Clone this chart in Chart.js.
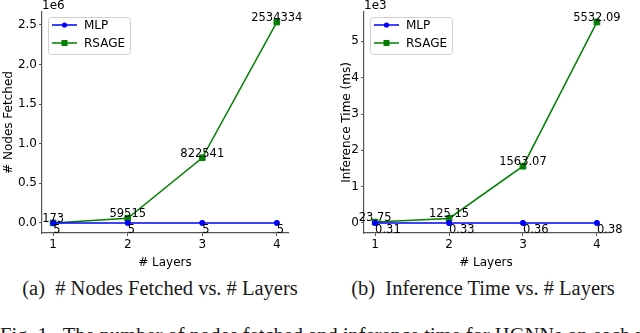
<!DOCTYPE html>
<html>
<head>
<meta charset="utf-8">
<script src="https://cdn.jsdelivr.net/npm/chart.js@4.4.1/dist/chart.umd.min.js"></script>
<style>
body{margin:0;width:640px;height:333px;overflow:hidden;background:#fff;position:relative;font-family:"DejaVu Sans",sans-serif;}
.box{position:absolute;top:0;width:320px;height:270px;}
.cap{position:absolute;top:277px;font-family:"Liberation Serif",serif;font-size:20.5px;color:#1a1a1a;white-space:nowrap;text-align:center;width:320px;}
.fig{position:absolute;top:324px;left:0;font-family:"Liberation Serif",serif;font-size:20.5px;color:#1a1a1a;white-space:nowrap;}
</style>
</head>
<body>
<div class="box" style="left:0"><canvas id="nodesChart"></canvas></div>
<div class="box" style="left:320px"><canvas id="timeChart"></canvas></div>
<div class="cap" style="left:0">(a)&nbsp; # Nodes Fetched vs. # Layers</div>
<div class="cap" style="left:323px">(b)&nbsp; Inference Time vs. # Layers</div>
<div class="fig">Fig. 1.&nbsp; The number of nodes fetched and inference time for HGNNs on each model</div>
<script>

/* data */
const layers=[1,2,3,4];
const nodesMLP=[5,5,5,5];
const nodesRSAGE=[173,59515,822541,2534334];
const timeMLP=[0.31,0.33,0.36,0.38];
const timeRSAGE=[23.75,125.15,1563.07,5532.09];
const nodesTicks=[0,500000,1000000,1500000,2000000,2500000];
const timeTicks=[0,1000,2000,3000,4000,5000];

const axisColor="#555";
const font12={family:"DejaVu Sans",size:12};


function toXY(vals){
return layers.map((l,i)=>({x:l,y:vals[i]}));
}


/* text next to every point */
const pointLabels={
id:"pointLabels",
afterDatasetsDraw(chart,args,opts){
const ctx=chart.ctx;
ctx.save();
ctx.font="11.5px 'DejaVu Sans'";
ctx.fillStyle="#000";
chart.data.datasets.forEach((ds,di)=>{
const meta=chart.getDatasetMeta(di);
meta.data.forEach((pt,i)=>{
let txt=opts.fmt(ds.data[i].y);
if(ds.label==="RSAGE"){
ctx.textAlign="center";
ctx.textBaseline="alphabetic";
ctx.fillText(txt,pt.x,pt.y-1);
}
else{
ctx.textAlign="left";
ctx.textBaseline="top";
ctx.fillText(txt,pt.x,pt.y+1);
}
});
});
ctx.restore();
}
};


/* matplotlib style offset text + legend inside axes */
const extras={
id:"extras",
afterDraw(chart,args,opts){
const ctx=chart.ctx;
const a=chart.chartArea;
ctx.save();
ctx.font="12px 'DejaVu Sans'";
ctx.fillStyle="#000";
ctx.textAlign="left";
ctx.textBaseline="alphabetic";
ctx.fillText(opts.offset,a.left,a.top-3);

let bx=a.left+6,by=a.top+5,bw=82,bh=37;
ctx.fillStyle="rgba(255,255,255,0.8)";
ctx.strokeStyle="#d0d0d0";
ctx.lineWidth=1;
ctx.beginPath();
ctx.roundRect(bx+0.5,by+0.5,bw,bh,3);
ctx.fill();
ctx.stroke();

chart.data.datasets.forEach((ds,di)=>{
let y=by+8+di*18;
ctx.strokeStyle=ds.borderColor;
ctx.lineWidth=1.5;
ctx.beginPath();
ctx.moveTo(bx+4,y);
ctx.lineTo(bx+29,y);
ctx.stroke();
ctx.fillStyle=ds.borderColor;
if(ds.pointStyle==="rect"){
ctx.fillRect(bx+13.5,y-3,6,6);
}
else{
ctx.beginPath();
ctx.arc(bx+16.5,y,2.6,0,Math.PI*2);
ctx.fill();
}
ctx.fillStyle="#000";
ctx.font="12px 'DejaVu Sans'";
ctx.textBaseline="middle";
ctx.fillText(ds.label,bx+36,y+1);
});
ctx.restore();
}
};


function makeChart(id,mlp,rsage,yTicks,yMin,yMax,yFmt,yTitle,padLeft,yWidth,offset,labelFmt){

const ctx=document.getElementById(id).getContext("2d");

return new Chart(ctx,{
type:"line",
data:{
datasets:[{
label:"MLP",
data:toXY(mlp),
borderColor:"#0000ff",
backgroundColor:"#0000ff",
borderWidth:1.5,
pointStyle:"circle",
pointRadius:2.6,
pointBorderWidth:1,
fill:false
},{
label:"RSAGE",
data:toXY(rsage),
borderColor:"#008000",
backgroundColor:"#008000",
borderWidth:1.5,
pointStyle:"rect",
pointRadius:4,
pointBorderWidth:1,
fill:false
}]
},
plugins:[pointLabels,extras],
options:{
responsive:true,
maintainAspectRatio:false,
animation:false,
layout:{padding:{top:12,right:32,left:padLeft,bottom:0}},
plugins:{
legend:{display:false},
tooltip:{enabled:false},
pointLabels:{fmt:labelFmt},
extras:{offset:offset}
},
scales:{
x:{
type:"linear",
min:0.85,
max:4.15,
afterBuildTicks:s=>{s.ticks=layers.map(v=>({value:v}));},
afterFit:s=>{s.height=37;},
grid:{drawOnChartArea:false,drawTicks:true,tickLength:3,color:axisColor},
border:{display:true,color:axisColor,width:1.2},
ticks:{color:"#000",font:font12,padding:2},
title:{display:true,text:"# Layers",color:"#000",font:font12,padding:{top:1,bottom:0}}
},
y:{
type:"linear",
min:yMin,
max:yMax,
afterBuildTicks:s=>{s.ticks=yTicks.map(v=>({value:v}));},
afterFit:s=>{s.width=yWidth;},
grid:{drawOnChartArea:false,drawTicks:true,tickLength:3,color:axisColor},
border:{display:true,color:axisColor,width:1.2},
ticks:{color:"#000",font:font12,padding:2,callback:yFmt},
title:{display:true,text:yTitle,color:"#000",font:font12,padding:{top:2,bottom:0}}
}
}
}
});

}


window.onload=function(){

let nMin=-0.05*(2534334-5),nMax=2534334+0.05*(2534334-5);
makeChart("nodesChart",nodesMLP,nodesRSAGE,nodesTicks,nMin,nMax,
v=>(v/1e6).toFixed(1),"# Nodes Fetched",0,42,"1e6",v=>String(v));

let tMin=-0.05*(5532.09-0.31),tMax=5532.09+0.05*(5532.09-0.31);
makeChart("timeChart",timeMLP,timeRSAGE,timeTicks,tMin,tMax,
v=>String(v/1000),"Inference Time (ms)",18,26,"1e3",v=>v.toFixed(2));

};

</script>
</body>
</html>
